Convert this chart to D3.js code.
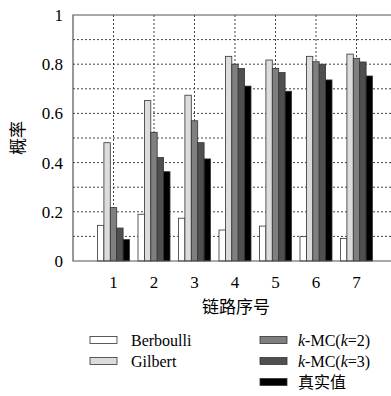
<html>
<head>
<meta charset="utf-8">
<style>
  body { margin: 0; background: #fff; }
  svg text { font-family: "Liberation Serif", "Times New Roman", Times, serif; }
  svg text.cjk { font-family: "Noto Sans CJK SC", sans-serif; }
</style>
<script src="https://d3js.org/d3.v7.min.js"></script>
</head>
<body>
<div id="chart"></div>
<script>
  // 链路序号 1..7
  var links = [1, 2, 3, 4, 5, 6, 7];
  var seriesNames = ["Berboulli", "Gilbert", "k-MC(k=2)", "k-MC(k=3)", "真实值"];
  var berboulli = [0.145, 0.190, 0.174, 0.126, 0.142, 0.099, 0.092];
  var gilbert   = [0.481, 0.652, 0.674, 0.832, 0.817, 0.832, 0.841];
  var kmc2      = [0.217, 0.523, 0.570, 0.800, 0.783, 0.810, 0.824];
  var kmc3      = [0.134, 0.421, 0.481, 0.783, 0.766, 0.800, 0.809];
  var truth     = [0.087, 0.363, 0.415, 0.711, 0.690, 0.736, 0.752];
  var yTicks = [0, 0.2, 0.4, 0.6, 0.8, 1];
  var fills = ["#ffffff", "#dcdcdc", "#7f7f7f", "#4f4f4f", "#000000"];

  var allSeries = [berboulli, gilbert, kmc2, kmc3, truth];

  var svg = d3.select("#chart").append("svg")
    .attr("width", 391).attr("height", 396);

  // plot box (note: "top" is reserved on window, so use pTop etc.)
  var pLeft = 73, pTop = 15, pBottom = 261, pRight = 397;
  var x = d3.scaleLinear().domain([0, 8]).range([pLeft, pRight]);
  var y = d3.scaleLinear().domain([0, 1]).range([pBottom, pTop]);
  var groupW = 32, barW = groupW / 5;

  // grid
  svg.selectAll(".hgrid").data(d3.range(1, 10).map(function (i) { return i / 10; }))
    .enter().append("line")
      .attr("x1", pLeft).attr("x2", pRight)
      .attr("y1", function (d) { return y(d); })
      .attr("y2", function (d) { return y(d); })
      .attr("stroke", "#444").attr("stroke-width", 1)
      .attr("stroke-dasharray", "2,2");
  svg.selectAll(".vgrid").data(links)
    .enter().append("line")
      .attr("x1", function (d) { return x(d); })
      .attr("x2", function (d) { return x(d); })
      .attr("y1", pTop).attr("y2", pBottom)
      .attr("stroke", "#444").attr("stroke-width", 1)
      .attr("stroke-dasharray", "2,2");

  // bars
  allSeries.forEach(function (vals, s) {
    svg.selectAll(".bar" + s).data(vals)
      .enter().append("rect")
        .attr("x", function (d, i) { return x(links[i]) - groupW / 2 + s * barW; })
        .attr("y", function (d) { return y(d); })
        .attr("width", barW)
        .attr("height", function (d) { return y(0) - y(d); })
        .attr("fill", fills[s])
        .attr("stroke", "#333").attr("stroke-width", 0.8);
  });

  // frame
  svg.append("path")
    .attr("d", "M" + pRight + "," + pTop + "H" + pLeft + "V" + pBottom + "H" + pRight)
    .attr("fill", "none").attr("stroke", "#555").attr("stroke-width", 1.2);

  // y ticks
  svg.selectAll(".ylab").data(yTicks)
    .enter().append("text")
      .attr("x", pLeft - 10)
      .attr("y", function (d) { return y(d) + 6; })
      .attr("text-anchor", "end")
      .attr("font-size", 17)
      .text(function (d) { return d3.format("")(d); });

  // x ticks
  svg.selectAll(".xlab").data(links)
    .enter().append("text")
      .attr("x", function (d) { return x(d); })
      .attr("y", 288)
      .attr("text-anchor", "middle")
      .attr("font-size", 17)
      .text(function (d) { return d; });

  svg.append("text").attr("class", "cjk")
    .attr("x", 236).attr("y", 313)
    .attr("text-anchor", "middle").attr("font-size", 17)
    .text("链路序号");

  svg.append("text").attr("class", "cjk")
    .attr("transform", "translate(24,138) rotate(-90)")
    .attr("text-anchor", "middle").attr("font-size", 17)
    .text("概率");

  // legend
  var legendPos = [[90, 340], [90, 361], [260, 340], [260, 361], [260, 382]];
  seriesNames.forEach(function (name, s) {
    var p = legendPos[s];
    svg.append("rect")
      .attr("x", p[0]).attr("y", p[1] - 3.5)
      .attr("width", 27).attr("height", 7)
      .attr("fill", fills[s]).attr("stroke", "#333").attr("stroke-width", 0.8);
    var t = svg.append("text")
      .attr("x", p[0] + (s < 2 ? 41 : 38)).attr("y", p[1] + 5.5)
      .attr("font-size", 16);
    if (name.indexOf("k-MC") === 0) {
      t.append("tspan").attr("font-style", "italic").text("k");
      t.append("tspan").text("-MC(");
      t.append("tspan").attr("font-style", "italic").text("k");
      t.append("tspan").text("=" + name.charAt(7) + ")");
    } else if (s === 4) {
      t.attr("class", "cjk").text(name);
    } else {
      t.text(name);
    }
  });
</script>
</body>
</html>
